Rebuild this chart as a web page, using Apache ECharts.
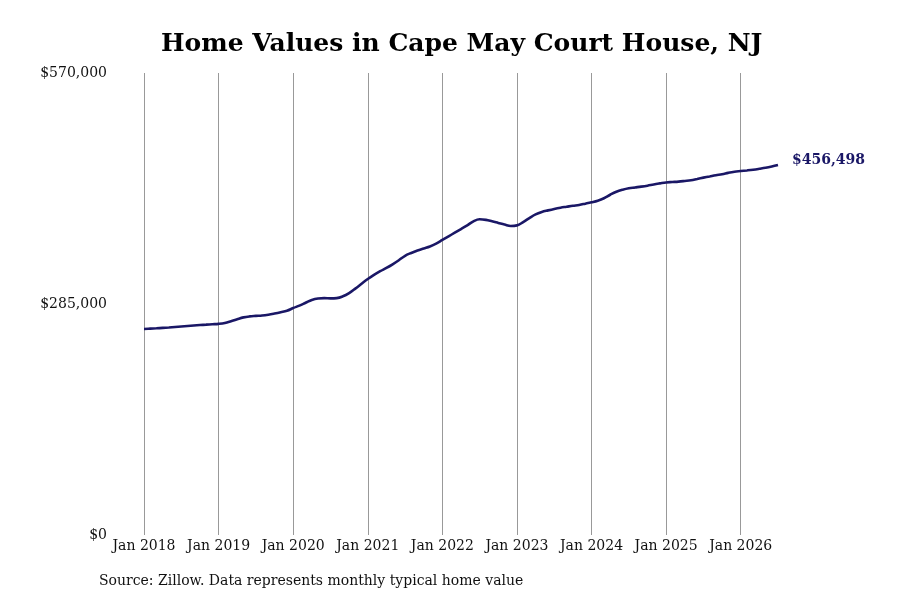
<!DOCTYPE html>
<html>
<head>
<meta charset="utf-8">
<style>
  html, body { margin: 0; padding: 0; background: #fff; }
  #main { width: 900px; height: 600px; }
</style>
<script src="https://cdn.jsdelivr.net/npm/echarts@6/dist/echarts.min.js"></script>
</head>
<body>
<div id="main"></div>
<script>
var years = [2018, 2019, 2020, 2021, 2022, 2023, 2024, 2025, 2026];
var monthNames = ['Jan', 'Feb', 'Mar', 'Apr', 'May', 'Jun', 'Jul', 'Aug', 'Sep', 'Oct', 'Nov', 'Dec'];

// typical home value, monthly, Jan 2018 - Jul 2026
var values2018 = [254200, 254600, 255000, 255500, 256000, 256600, 257200, 257800, 258400, 259000, 259500, 260000];
var values2019 = [260500, 261600, 263800, 266300, 268500, 269700, 270300, 270800, 271800, 273200, 274800, 276600];
var values2020 = [280000, 283000, 286500, 290000, 291800, 292200, 292000, 292300, 294500, 298500, 304000, 310000];
var values2021 = [315800, 321000, 325500, 329500, 334000, 339000, 344500, 348000, 351000, 353500, 356000, 359500];
var values2022 = [364000, 368500, 373000, 377500, 382000, 387000, 389500, 388800, 387000, 385000, 383000, 381300];
var values2023 = [382000, 386000, 391000, 395500, 398500, 400500, 402300, 403800, 405000, 406200, 407200, 408800];
var values2024 = [410500, 412500, 415500, 419800, 423500, 426000, 427800, 428800, 429800, 431000, 432500, 433800];
var values2025 = [435000, 435500, 436000, 436800, 437700, 439300, 440900, 442400, 443900, 445000, 446800, 448200];
var values2026 = [449000, 449800, 450700, 451800, 453000, 454600, 456498];

var yTicks = [0, 285000, 570000];

var values = [].concat(values2018, values2019, values2020, values2021, values2022,
  values2023, values2024, values2025, values2026);

var months = [];
years.forEach(function (y) {
  monthNames.forEach(function (m) { months.push(m + ' ' + y); });
});
months = months.slice(0, values.length);

function money(v) {
  return '$' + Math.round(v).toLocaleString('en-US');
}

var chart = echarts.init(document.getElementById('main'));
var font = 'DejaVu Serif';

var option = {
  animation: false,
  backgroundColor: '#fff',
  title: {
    text: 'Home Values in Cape May Court House, NJ',
    left: 156,
    top: 27,
    textStyle: { fontFamily: font, fontSize: 25, fontWeight: 'bold', color: '#000' }
  },
  grid: { left: 144, right: 122, top: 73, bottom: 65 },
  xAxis: {
    type: 'category',
    data: months,
    boundaryGap: false,
    axisLine: { show: false },
    axisTick: { show: false },
    axisLabel: {
      interval: function (i) { return i % 12 === 0; },
      fontFamily: font, fontSize: 14, color: '#111', margin: 4
    },
    splitLine: {
      show: true,
      interval: function (i) { return i % 12 === 0; },
      lineStyle: { color: '#999', width: 1 }
    }
  },
  yAxis: {
    type: 'value',
    min: yTicks[0],
    max: yTicks[yTicks.length - 1],
    interval: yTicks[1] - yTicks[0],
    axisLine: { show: false },
    axisTick: { show: false },
    splitLine: { show: false },
    axisLabel: {
      formatter: money,
      fontFamily: font, fontSize: 14, color: '#111', margin: 37
    }
  },
  series: [{
    type: 'line',
    data: values,
    smooth: 0.4,
    showSymbol: false,
    lineStyle: { color: '#1a1766', width: 2.6 },
    endLabel: {
      show: true,
      formatter: function (p) { return money(p.value); },
      fontFamily: font, fontSize: 14, fontWeight: 'bold', color: '#1a1766',
      distance: 14,
      offset: [0, -5]
    }
  }],
  graphic: [{
    type: 'text',
    left: 99,
    top: 574,
    style: {
      text: 'Source: Zillow. Data represents monthly typical home value',
      font: '14px "DejaVu Serif"',
      fill: '#111'
    }
  }]
};

chart.setOption(option);
</script>
</body>
</html>
